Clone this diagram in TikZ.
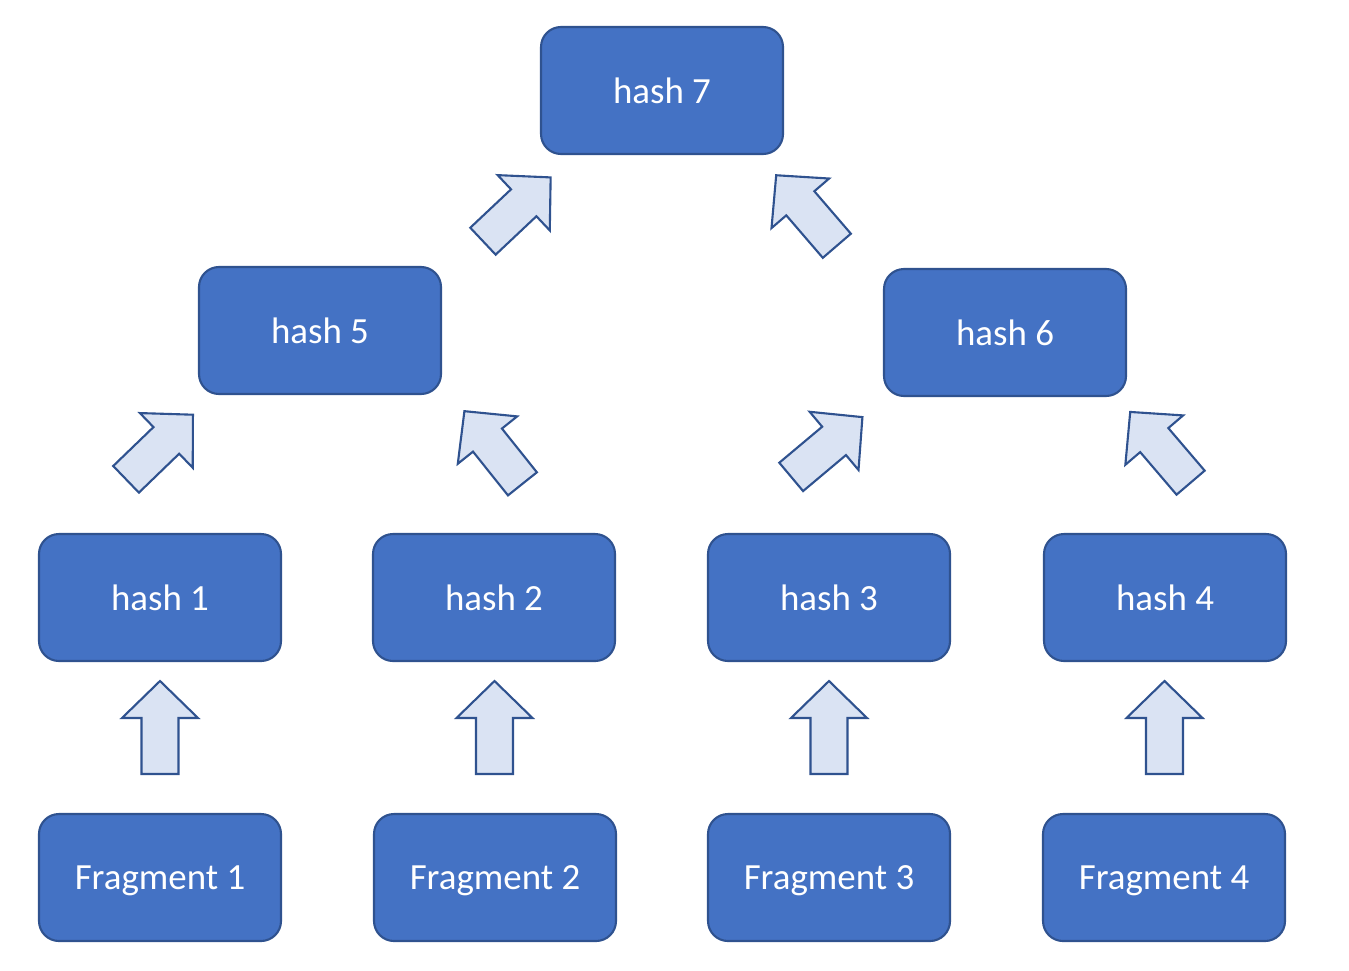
\documentclass[tikz,border=0pt]{standalone}
\usepackage{fontspec}
\setmainfont{Carlito}
\usepackage{tikz}
\usetikzlibrary{positioning, calc}

\definecolor{boxfill}{HTML}{4472C4}
\definecolor{boxline}{HTML}{2F528F}
\definecolor{arrowfill}{HTML}{DAE3F3}

\begin{document}
\begin{tikzpicture}[
    % --- STYLES ---
    hashbox/.style={rectangle, rounded corners=0.2cm, draw=boxline, fill=boxfill, line width=0.6pt, minimum width=2.42cm, minimum height=1.27cm, text depth=0pt, text=white, font=\fontsize{10.5}{12}\selectfont},
    blockarrow/.style={draw=boxline, fill=arrowfill, line width=0.6pt, line join=miter},
    % block arrow pointing up, centred on the pic position
    uparrow/.pic={
        \draw[blockarrow] (0,0.465) -- (0.38,0.095) -- (0.185,0.095) -- (0.185,-0.465)
            -- (-0.185,-0.465) -- (-0.185,0.095) -- (-0.38,0.095) -- cycle;
    }
]
\useasboundingbox (0,0) rectangle (13.49,-9.70);

% --- 1. FRAGMENTS (bottom row) ---
\node[hashbox] (f1) at (1.60,-8.775) {Fragment 1};
\node[hashbox] (f2) at (4.95,-8.775) {Fragment 2};
\node[hashbox] (f3) at (8.29,-8.775) {Fragment 3};
\node[hashbox] (f4) at (11.64,-8.775) {Fragment 4};

% --- 2. LEAF HASHES ---
\node[hashbox] (h1) at (1.60,-5.975) {hash 1};
\node[hashbox] (h2) at (4.94,-5.975) {hash 2};
\node[hashbox] (h3) at (8.29,-5.975) {hash 3};
\node[hashbox] (h4) at (11.65,-5.975) {hash 4};

% --- 3. INNER HASHES + ROOT ---
\node[hashbox] (h5) at (3.20,-3.305) {hash 5};
\node[hashbox] (h6) at (10.05,-3.325) {hash 6};
\node[hashbox] (h7) at (6.62,-0.905) {hash 7};

% --- 4. BLOCK ARROWS ---
% fragment -> leaf hash
\foreach \i in {1,2,3,4} {
    \pic at ($(h\i.south)!0.5!(f\i.north) + (0,0.1)$) {uparrow};
}
% leaf -> inner, inner -> root
\pic[rotate=-46] at (1.595,-4.47) {uparrow};
\pic[rotate=38.6] at (4.934,-4.475) {uparrow};
\pic[rotate=-50] at (8.268,-4.47) {uparrow};
\pic[rotate=40.5] at (11.604,-4.473) {uparrow};
\pic[rotate=-46.7] at (5.168,-2.093) {uparrow};
\pic[rotate=40.7] at (8.065,-2.105) {uparrow};

\end{tikzpicture}
\end{document}
